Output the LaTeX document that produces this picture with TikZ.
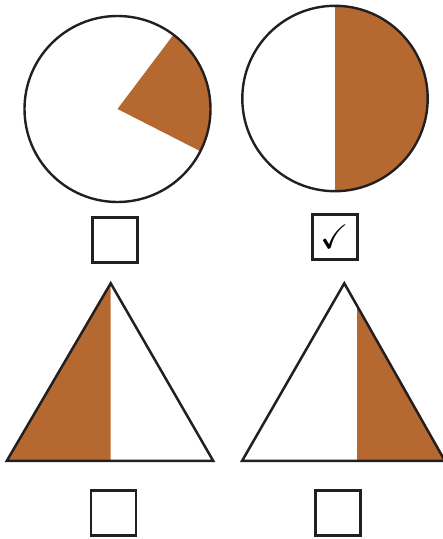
\documentclass[tikz,border=0pt]{standalone}
\usepackage{amssymb}
\definecolor{fillbrown}{RGB}{181,105,48}
\definecolor{ink}{RGB}{35,31,32}
\begin{document}
\begin{tikzpicture}[x=1pt,y=1pt,
  outline/.style={draw=ink,line width=2.4pt},
  tickbox/.style={draw=ink,line width=2.7pt,minimum size=45pt,inner sep=0pt,fill=white}]
\useasboundingbox (0,0) rectangle (443,539);
% circle 1
\fill[fillbrown] (117.5,430) -- ++(-27:93) arc[start angle=-27,end angle=53,radius=93] -- cycle;
\draw[outline] (117.5,430) circle[radius=93];
% circle 2
\fill[fillbrown] (335,533.2) arc[start angle=90,end angle=-90,radius=92.7] -- cycle;
\draw[outline] (335,440.5) circle[radius=92.7];
% boxes row 1
\node[tickbox] (b1) at (115,298.7) {};
\node[tickbox] (b2) at (334.7,302) {\fontsize{34}{34}\selectfont$\checkmark$};
% triangle 1
\fill[fillbrown] (6.7,78) -- (110.7,255.7) -- (110.7,78) -- cycle;
\draw[outline,line width=2.5pt] (6.7,78) -- (110.7,255.7) -- (213.3,78) -- cycle;
% triangle 2
\begin{scope}
\clip (242,78) -- (344.3,255.7) -- (445,78) -- cycle;
\fill[fillbrown] (357,70) rectangle (450,260);
\end{scope}
\draw[outline,line width=2.5pt] (242,78) -- (344.3,255.7) -- (445,78) -- cycle;
% boxes row 2
\node[tickbox] (b3) at (113.5,26) {};
\node[tickbox] (b4) at (338,26) {};
\end{tikzpicture}
\end{document}
